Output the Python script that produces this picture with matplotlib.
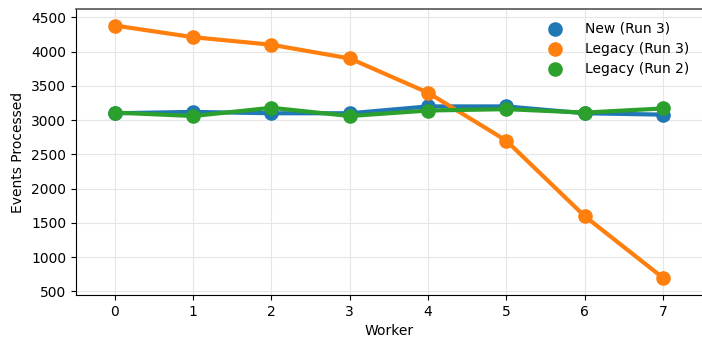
import numpy as np
import matplotlib
matplotlib.use("Agg")
import matplotlib.pyplot as plt

workers = [0, 1, 2, 3, 4, 5, 6, 7]
new_run3 = [3100, 3120, 3100, 3100, 3200, 3200, 3100, 3080]
legacy_run3 = [4380, 4210, 4100, 3900, 3400, 2700, 1600, 700]
legacy_run2 = [3110, 3060, 3180, 3060, 3140, 3160, 3110, 3170]

series = [
    ("New (Run 3)", new_run3, "#1f77b4"),
    ("Legacy (Run 3)", legacy_run3, "#ff7f0e"),
    ("Legacy (Run 2)", legacy_run2, "#2ca02c"),
]

fig, ax = plt.subplots(figsize=(7.02, 3.37), dpi=100)

for label, vals, color in series:
    ax.plot(workers, vals, color=color, lw=3, marker="o", markersize=9.5, zorder=3)
    # marker-only handle for the legend
    ax.scatter([], [], color=color, s=90, label=label)

ax.set_xlim(-0.5, 7.5)
ax.set_ylim(450, 4620)
ax.set_xticks(workers)
ax.set_yticks(np.arange(500, 4501, 500))
ax.grid(True, color="#e6e6e6", lw=0.8)
ax.set_axisbelow(True)

ax.spines["top"].set_color("#555555")
ax.spines["top"].set_linewidth(1.2)
ax.spines["right"].set_visible(False)

ax.set_xlabel("Worker")
ax.set_ylabel("Events Processed")
ax.legend(loc="upper right", frameon=False, handletextpad=1.2, labelspacing=0.45)

fig.subplots_adjust(left=0.108, right=1.0, top=0.973, bottom=0.125)
fig.savefig("out.png")
